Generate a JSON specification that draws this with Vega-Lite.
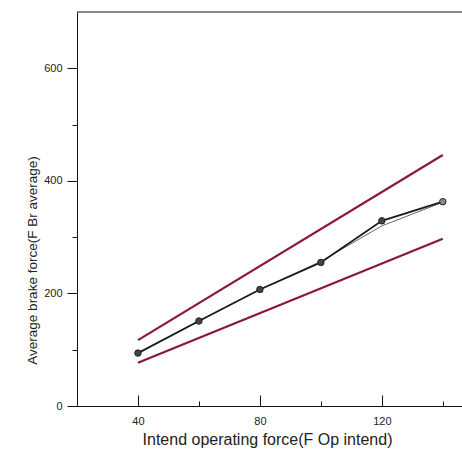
{
  "$schema": "https://vega.github.io/schema/vega-lite/v6.json",
  "autosize": "none",
  "width": 385,
  "height": 394,
  "padding": {"left": 77, "top": 12, "right": 0, "bottom": 44},
  "background": "white",
  "config": {
    "view": {"stroke": null},
    "axis": {
      "grid": false,
      "domainColor": "#111",
      "tickColor": "#111",
      "labelFont": "Liberation Sans",
      "labelFontSize": 11,
      "labelColor": "#222",
      "titleFont": "Liberation Sans",
      "titleFontWeight": "normal",
      "titleColor": "#222"
    }
  },
  "datasets": {
    "lines": [
      {"series": "upper", "force": 40, "brake": 117},
      {"series": "upper", "force": 140, "brake": 446},
      {"series": "lower", "force": 40, "brake": 77},
      {"series": "lower", "force": 140, "brake": 297}
    ],
    "thin": [
      {"force": 40, "brake": 94},
      {"force": 60, "brake": 151},
      {"force": 80, "brake": 207},
      {"force": 100, "brake": 257},
      {"force": 120, "brake": 320},
      {"force": 140, "brake": 362}
    ],
    "main": [
      {"force": 40, "brake": 94},
      {"force": 60, "brake": 151},
      {"force": 80, "brake": 207},
      {"force": 100, "brake": 255},
      {"force": 120, "brake": 329},
      {"force": 140, "brake": 363}
    ],
    "frame": [{"level": 700}]
  },
  "layer": [
    {
      "data": {"name": "frame"},
      "mark": {"type": "rule", "color": "#111", "strokeWidth": 1},
      "encoding": {
        "y": {"field": "level", "type": "quantitative", "scale": {"domain": [0, 700], "nice": false}}
      }
    },
    {
      "data": {"name": "lines"},
      "mark": {"type": "line", "color": "#8a1838", "strokeWidth": 2.2},
      "encoding": {
        "x": {
          "field": "force", "type": "quantitative",
          "scale": {"domain": [20, 146.3], "nice": false},
          "axis": {
            "values": [40, 60, 80, 100, 120, 140],
            "labelExpr": "datum.value % 40 == 0 ? datum.label : ''",
            "tickSize": {"condition": {"test": "datum.value % 40 == 0", "value": -11}, "value": -5},
            "labelPadding": 20,
            "labelFontSize": 11,
            "title": "Intend operating force(F Op intend)",
            "titleFontSize": 16,
            "titleX": 190,
            "titleY": 38,
            "titleBaseline": "alphabetic",
            "titleAnchor": null,
            "titleAlign": "center"
          }
        },
        "y": {
          "field": "brake", "type": "quantitative",
          "scale": {"domain": [0, 700], "nice": false},
          "axis": {
            "values": [0, 100, 200, 300, 400, 500, 600],
            "labelExpr": "datum.value % 200 == 0 ? datum.label : ''",
            "tickSize": {"condition": {"test": "datum.value % 200 == 0", "value": 10}, "value": 5},
            "labelPadding": 5,
            "title": "Average brake force(F Br average)",
            "titleFontSize": 13.5,
            "titleX": -41,
            "titleY": 248,
            "titleAngle": -90,
            "titleAlign": "center",
            "titleBaseline": "alphabetic"
          }
        },
        "detail": {"field": "series"}
      }
    },
    {
      "data": {"name": "thin"},
      "mark": {"type": "line", "color": "#555", "strokeWidth": 0.9},
      "encoding": {
        "x": {"field": "force", "type": "quantitative"},
        "y": {"field": "brake", "type": "quantitative"}
      }
    },
    {
      "data": {"name": "main"},
      "mark": {"type": "line", "color": "#1a1a1a", "strokeWidth": 1.8},
      "encoding": {
        "x": {"field": "force", "type": "quantitative"},
        "y": {"field": "brake", "type": "quantitative"}
      }
    },
    {
      "data": {"name": "main"},
      "mark": {"type": "point", "filled": true, "size": 42, "stroke": "#222", "strokeWidth": 1},
      "encoding": {
        "x": {"field": "force", "type": "quantitative"},
        "y": {"field": "brake", "type": "quantitative"},
        "color": {"condition": {"test": "datum.force == 140", "value": "#8a8a8a"}, "value": "#444"},
        "opacity": {"value": 1}
      }
    }
  ]
}
